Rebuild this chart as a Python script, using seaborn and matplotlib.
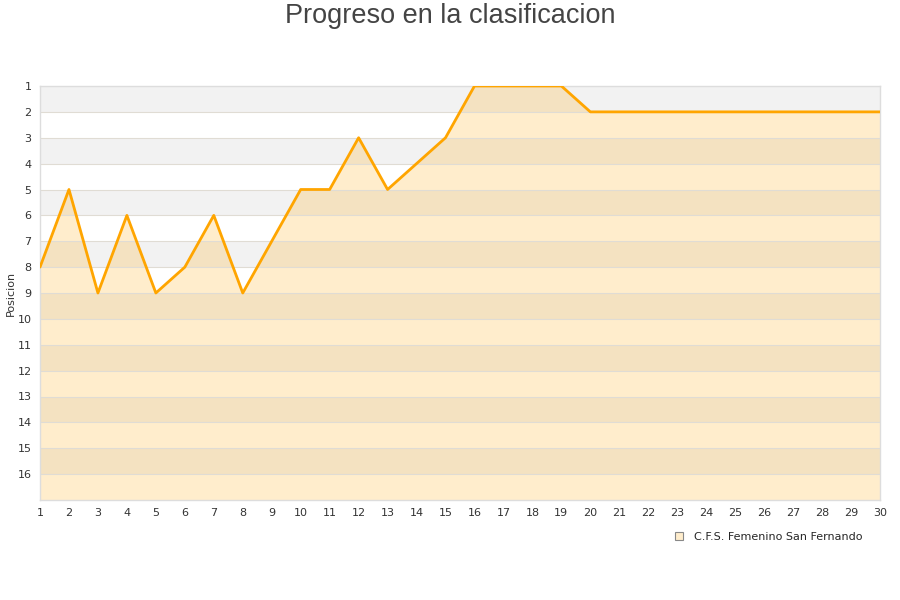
import matplotlib
matplotlib.use("Agg")
import matplotlib.pyplot as plt
import seaborn as sns
import pandas as pd
from matplotlib.patches import Patch

jornadas = list(range(1, 31))
posiciones = [8, 5, 9, 6, 9, 8, 6, 9, 7, 5, 5, 3, 5, 4, 3, 1, 1, 1, 1, 2,
              2, 2, 2, 2, 2, 2, 2, 2, 2, 2]
equipo = "C.F.S. Femenino San Fernando"
titulo = "Progreso en la clasificacion"
y_label = "Posicion"
y_ticks = list(range(1, 17))

df = pd.DataFrame({"Jornada": jornadas, "Posicion": posiciones})

sns.set_theme(style="white")
plt.rcParams['font.family'] = ['DejaVu Sans']

fig = plt.figure(figsize=(9, 6), dpi=100)
ax = fig.add_axes([40/900, 1-500/600, 840/900, 414/600])

# alternating bands
for k in range(1, 17, 2):
    ax.axhspan(k, k+1, color="#f2f2f2", zorder=0, lw=0)

orange = "#FFA500"
ax.fill_between(df["Jornada"], df["Posicion"], 17, color=orange, alpha=0.2, lw=0, zorder=1)
sns.lineplot(data=df, x="Jornada", y="Posicion", ax=ax, color=orange, lw=2.0, zorder=3)

ax.set_xlim(1, 30)
ax.set_ylim(17, 1)
ax.set_yticks(y_ticks)
ax.set_xticks(jornadas)
ax.tick_params(axis="both", labelsize=8, colors="#333333", length=0, pad=6)
for y in range(2, 17):
    ax.axhline(y, color="#e0dcd4", lw=0.8, zorder=2)
for s in ax.spines.values():
    s.set_color("#dddddd")
    s.set_linewidth(1)
ax.set_xlabel("")
ax.set_ylabel(y_label, fontsize=8, color="#333333")
ax.yaxis.set_label_coords(-0.0285, 0.5)

fig.text(0.5, 1-16/600, titulo, fontsize=19.5, color="#444444", ha="center", va="center",
         family=["Liberation Sans", "DejaVu Sans"])

handle = Patch(facecolor="#FFEDCC", edgecolor="#888888", lw=0.8)
fig.legend([handle], [equipo], loc="center", bbox_to_anchor=(850/900 - 0.09, 1-537/600),
           frameon=False, fontsize=8, handlelength=0.7, handleheight=0.7, handletextpad=1.0)

fig.savefig("out.png", dpi=100)
